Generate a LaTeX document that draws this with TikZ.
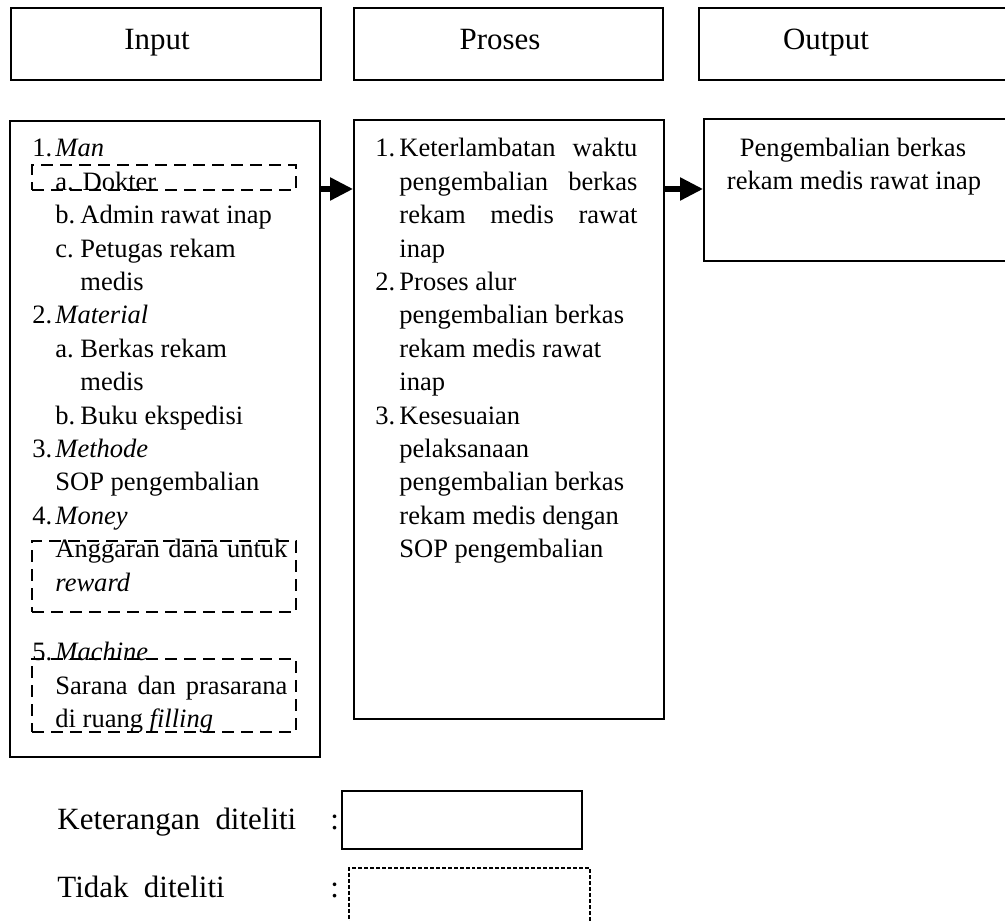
\documentclass[tikz,border=0pt]{standalone}
\usepackage{fontspec}
\setmainfont{Liberation Serif}
\usetikzlibrary{fit,arrows.meta}
\begin{document}
\begin{tikzpicture}[x=0.4525pt,y=-0.4525pt,
  box/.style={draw, line width=0.9pt, inner sep=0pt},
  dbox/.style={draw, line width=1.2pt, dash pattern=on 5.4pt off 3.2pt, inner sep=0pt},
  lbox/.style={draw, line width=1.2pt, inner sep=0pt},
  ldbox/.style={draw, line width=0.5pt, dash pattern=on 1.8pt off 0.9pt, inner sep=0pt},
  t/.style={anchor=base west, inner sep=0pt, font=\fontsize{12}{14}\selectfont},
  tc/.style={anchor=base, inner sep=0pt, font=\fontsize{12}{14}\selectfont},
  head/.style={anchor=base, inner sep=0pt, font=\fontsize{14}{16}\selectfont},
  leg/.style={anchor=base west, inner sep=0pt, font=\fontsize{14}{16}\selectfont},
  arr/.style={line width=2.3pt, -{Triangle[length=10.4pt,width=10pt]}}]
\useasboundingbox (0,0) rectangle (1005,921);

% header boxes
\node[box, fit={(11,8)(321,80)}] (hin) {};
\node[box, fit={(354,8)(663,80)}] (hpro) {};
\node[box, fit={(699,8)(1030,80)}] (hout) {};
\node[head] (hint) at (157,50) {Input};
\node[head] (hprot) at (500,50) {Proses};
\node[head] (houtt) at (826,50) {Output};

% main boxes
\node[box, fit={(10,121)(320,757)}] (inbox) {};
\node[box, fit={(354,120)(664,719)}] (probox) {};
\node[box, fit={(704,119)(1030,261)}] (outbox) {};

% arrows
\coordinate (ay) at (0,189);
\draw[arr] (inbox.east |- ay) -- (probox.west |- ay);
\draw[arr] (probox.east |- ay) -- (outbox.west |- ay);

% input list
\node[t] (i1n) at (32,157) {1.};
\node[t] (i1) at (55,157) {\textit{Man}};
\node[t] (i1a) at (55,190.4) {a. Dokter};
\node[t] (i1bn) at (55,223.8) {b.};
\node[t] (i1b) at (80,223.8) {Admin rawat inap};
\node[t] (i1cn) at (55,257.2) {c.};
\node[t] (i1c) at (80,257.2) {Petugas rekam};
\node[t] (i1c2) at (80,290.6) {medis};
\node[t] (i2n) at (32,324) {2.};
\node[t] (i2) at (55,324) {\textit{Material}};
\node[t] (i2an) at (55,357.4) {a.};
\node[t] (i2a) at (80,357.4) {Berkas rekam};
\node[t] (i2a2) at (80,390.8) {medis};
\node[t] (i2bn) at (55,424.2) {b.};
\node[t] (i2b) at (80,424.2) {Buku ekspedisi};
\node[t] (i3n) at (32,457.6) {3.};
\node[t] (i3) at (55,457.6) {\textit{Methode}};
\node[t] (i3a) at (55,491) {SOP pengembalian};
\node[t] (i4n) at (32,524.4) {4.};
\node[t] (i4) at (55,524.4) {\textit{Money}};
\node[t] (i4a) at (55,557.8) {\makebox[105pt][s]{Anggaran dana untuk}};
\node[t] (i4b) at (55,591.2) {\textit{reward}};
\node[t] (i5n) at (32,660) {5.};
\node[t] (i5) at (55,660) {\textit{Machine}};
\node[t] (i5a) at (55,694) {\makebox[105pt][s]{Sarana dan prasarana}};
\node[t] (i5b) at (55,727) {di ruang \textit{filling}};

% dashed (not examined) boxes
\node[dbox, fit={(32,165)(296,190)}] (dok) {};
\node[dbox, fit={(32,541)(296,612)}] (mon) {};
\node[dbox, fit={(32,659)(296,732)}] (mac) {};

% proses list
\node[t] (p1n) at (375,157) {1.};
\node[t] (p1a) at (399,157) {\makebox[107.7pt][s]{Keterlambatan waktu}};
\node[t] (p1b) at (399,190.4) {\makebox[107.7pt][s]{pengembalian berkas}};
\node[t] (p1c) at (399,223.8) {\makebox[107.7pt][s]{rekam medis rawat}};
\node[t] (p1d) at (399,257.2) {inap};
\node[t] (p2n) at (375,290.6) {2.};
\node[t] (p2a) at (399,290.6) {Proses alur};
\node[t] (p2b) at (399,324) {pengembalian berkas};
\node[t] (p2c) at (399,357.4) {rekam medis rawat};
\node[t] (p2d) at (399,390.8) {inap};
\node[t] (p3n) at (375,424.2) {3.};
\node[t] (p3a) at (399,424.2) {Kesesuaian};
\node[t] (p3b) at (399,457.6) {pelaksanaan};
\node[t] (p3c) at (399,491) {pengembalian berkas};
\node[t] (p3d) at (399,524.4) {rekam medis dengan};
\node[t] (p3e) at (399,557.8) {SOP pengembalian};

% output text
\node[tc] (o1) at (853,157) {Pengembalian berkas};
\node[tc] (o2) at (854,190) {rekam medis rawat inap};

% legend
\node[leg] (k1) at (57,829) {Keterangan\hspace{7pt}diteliti};
\node[leg] (k1c) at (330,829) {:};
\node[lbox, fit={(342,791)(582,849)}] (kbox) {};
\node[leg] (k2) at (57,897) {Tidak\hspace{7pt}diteliti};
\node[leg] (k2c) at (330,897) {:};
\node[ldbox, fit={(349,868)(590,960)}] (tbox) {};
\end{tikzpicture}
\end{document}
